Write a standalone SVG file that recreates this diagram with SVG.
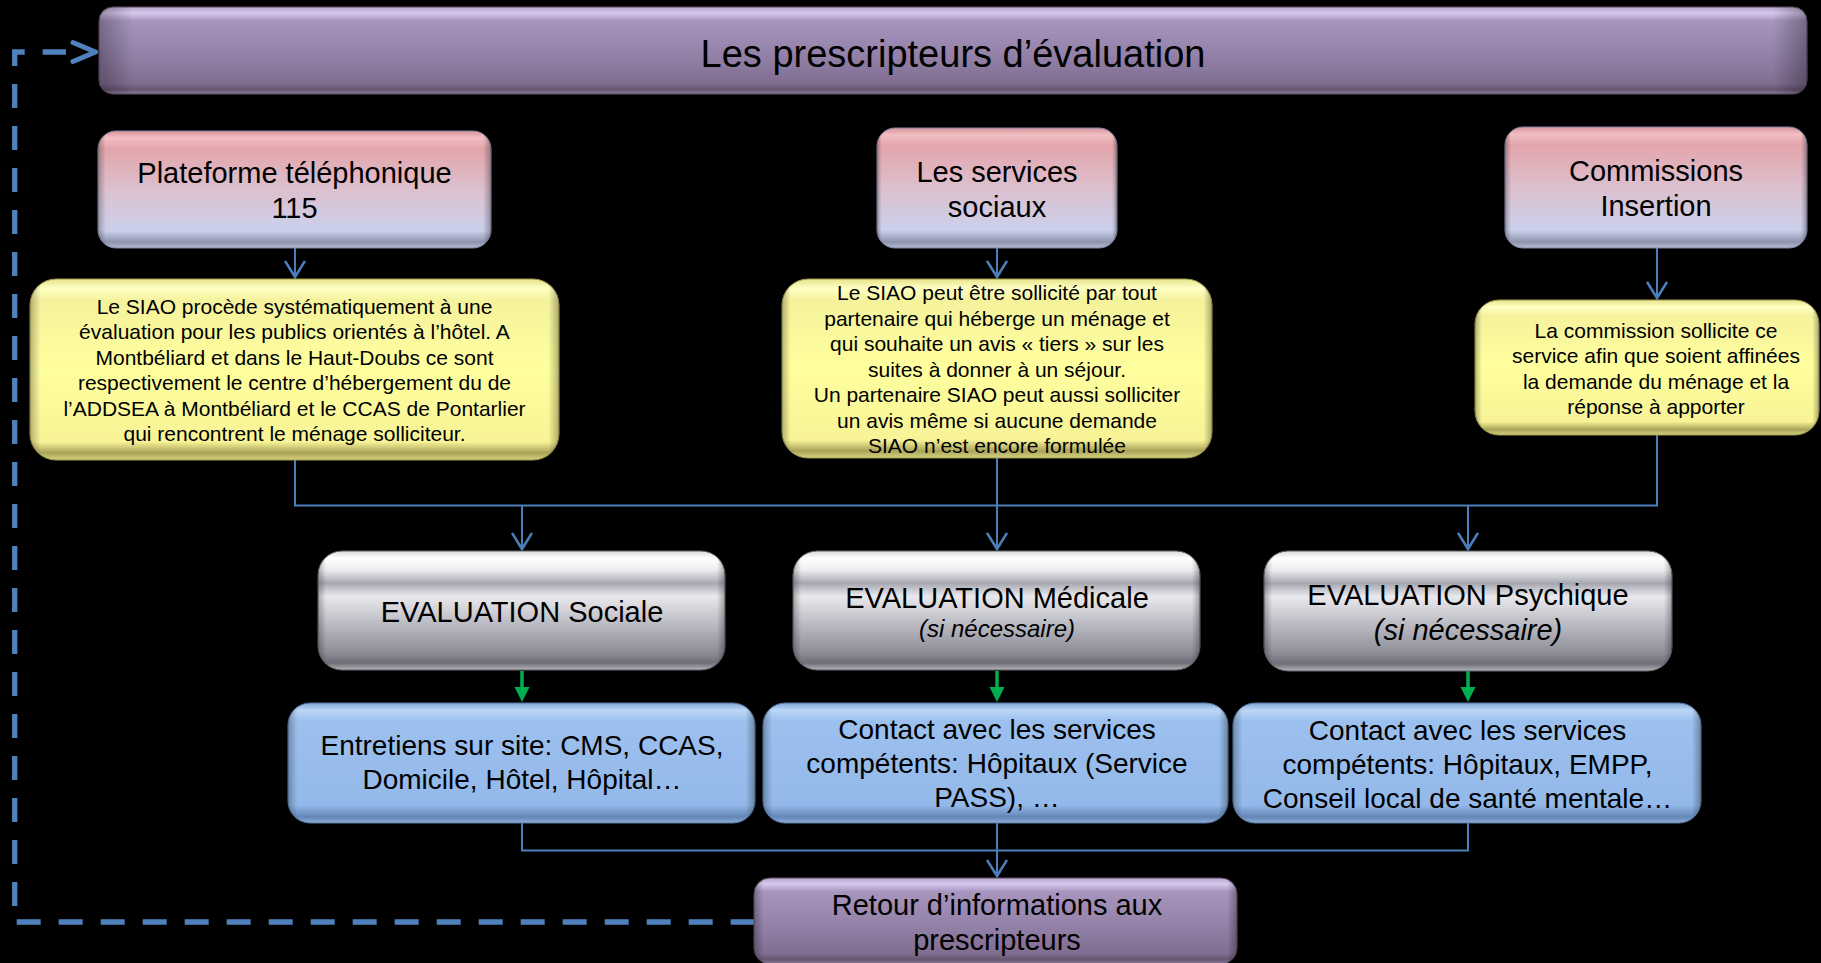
<svg xmlns="http://www.w3.org/2000/svg" width="1821" height="963" viewBox="0 0 1821 963">
<defs>
  <linearGradient id="gPurple" x1="0" y1="0" x2="0" y2="1">
    <stop offset="0" stop-color="#B8A6CC"/>
    <stop offset="0.07" stop-color="#D6C7EC"/>
    <stop offset="0.16" stop-color="#A795BE"/>
    <stop offset="0.55" stop-color="#9381A8"/>
    <stop offset="0.88" stop-color="#806D90"/>
    <stop offset="0.95" stop-color="#66566F"/>
    <stop offset="1" stop-color="#8E7E9E"/>
  </linearGradient>
  <linearGradient id="gPink" x1="0" y1="0" x2="0" y2="1">
    <stop offset="0" stop-color="#D9959C"/>
    <stop offset="0.06" stop-color="#F2BFC4"/>
    <stop offset="0.15" stop-color="#E3A5AB"/>
    <stop offset="0.5" stop-color="#DCC0CE"/>
    <stop offset="0.85" stop-color="#CBD0EC"/>
    <stop offset="0.95" stop-color="#8F94AE"/>
    <stop offset="1" stop-color="#B6BAD2"/>
  </linearGradient>
  <linearGradient id="gYellow" x1="0" y1="0" x2="0" y2="1">
    <stop offset="0" stop-color="#E6E28A"/>
    <stop offset="0.05" stop-color="#FFFFC4"/>
    <stop offset="0.12" stop-color="#F5F29C"/>
    <stop offset="0.5" stop-color="#FFFF9E"/>
    <stop offset="0.9" stop-color="#F7F396"/>
    <stop offset="0.96" stop-color="#A9A35A"/>
    <stop offset="1" stop-color="#D7D27E"/>
  </linearGradient>
  <linearGradient id="gGray" x1="0" y1="0" x2="0" y2="1">
    <stop offset="0" stop-color="#D8D8DC"/>
    <stop offset="0.06" stop-color="#FFFFFF"/>
    <stop offset="0.16" stop-color="#EDEDF0"/>
    <stop offset="0.27" stop-color="#A7A7B1"/>
    <stop offset="0.38" stop-color="#E9E9ED"/>
    <stop offset="0.6" stop-color="#BDBDC5"/>
    <stop offset="0.85" stop-color="#8E8E99"/>
    <stop offset="0.94" stop-color="#6E6E78"/>
    <stop offset="1" stop-color="#B4B4BC"/>
  </linearGradient>
  <linearGradient id="gBlue" x1="0" y1="0" x2="0" y2="1">
    <stop offset="0" stop-color="#7FA6D6"/>
    <stop offset="0.06" stop-color="#BCD6F6"/>
    <stop offset="0.15" stop-color="#9CC0EE"/>
    <stop offset="0.85" stop-color="#93B9EA"/>
    <stop offset="0.95" stop-color="#6486B6"/>
    <stop offset="1" stop-color="#8FAFDA"/>
  </linearGradient>
  <linearGradient id="gEdge" x1="0" y1="0" x2="1" y2="0">
    <stop offset="0" stop-color="#000" stop-opacity="0.28"/>
    <stop offset="0.02" stop-color="#000" stop-opacity="0"/>
    <stop offset="0.98" stop-color="#000" stop-opacity="0"/>
    <stop offset="1" stop-color="#000" stop-opacity="0.3"/>
  </linearGradient>
  <marker id="arrOpen" viewBox="0 0 20 22" refX="17" refY="11" markerWidth="20" markerHeight="22" markerUnits="userSpaceOnUse" orient="auto">
    <path d="M1,1 L17,11 L1,21" fill="none" stroke="#4A7EBB" stroke-width="2.6"/>
  </marker>
</defs>
<style>
  text { font-family: "Liberation Sans", Arial, sans-serif; fill: #000; text-anchor: middle; }
  .t38 { font-size: 38px; }
  .t29 { font-size: 29px; }
  .t28 { font-size: 28px; }
  .t21 { font-size: 21px; }
  .i24 { font-size: 24px; font-style: italic; }
  .i29 { font-size: 29px; font-style: italic; }
  .purple { fill: url(#gPurple); stroke: #5E4F6C; stroke-width: 1; }
  .pink { fill: url(#gPink); stroke: #7F86A2; stroke-width: 1; }
  .yellow { fill: url(#gYellow); stroke: #9E9850; stroke-width: 1; }
  .gray { fill: url(#gGray); stroke: #60606A; stroke-width: 1; }
  .blue { fill: url(#gBlue); stroke: #56789F; stroke-width: 1; }
  .edge { fill: url(#gEdge); stroke: none; }
  .conn { fill: none; stroke: #4A7EBB; stroke-width: 2; }
  .green { fill: none; stroke: #00B050; stroke-width: 3.5; }
  .greenHead { fill: #00B050; }
  .dash { fill: none; stroke: #4F81BD; stroke-width: 5.3; stroke-dasharray: 24 18; }
  .dashHead { fill: none; stroke: #4F81BD; stroke-width: 5; stroke-linecap: round; stroke-linejoin: round; }
</style>
<rect width="1821" height="963" fill="#000"/>

<g id="connectors">
  <path class="conn" d="M295,460 V505.5 H1657 V435"/>
  <path class="conn" d="M295,248 V277" marker-end="url(#arrOpen)"/>
  <path class="conn" d="M997,248 V277" marker-end="url(#arrOpen)"/>
  <path class="conn" d="M1657,248 V298" marker-end="url(#arrOpen)"/>
  <path class="conn" d="M522,505.5 V549" marker-end="url(#arrOpen)"/>
  <path class="conn" d="M997,458 V549" marker-end="url(#arrOpen)"/>
  <path class="conn" d="M1468,505.5 V549" marker-end="url(#arrOpen)"/>
  <line class="green" x1="522" y1="671" x2="522" y2="689"/>
  <polygon class="greenHead" points="514.5,687 529.5,687 522,702"/>
  <line class="green" x1="997" y1="671" x2="997" y2="689"/>
  <polygon class="greenHead" points="989.5,687 1004.5,687 997,702"/>
  <line class="green" x1="1468" y1="671" x2="1468" y2="689"/>
  <polygon class="greenHead" points="1460.5,687 1475.5,687 1468,702"/>
  <path class="conn" d="M522,823 V850.5 H1468 V823"/>
  <path class="conn" d="M997,823 V876" marker-end="url(#arrOpen)"/>
  <path class="dash" d="M16.7,922 H754"/>
  <path class="dash" d="M14.7,906 V52 H66"/>
  <polyline class="dashHead" points="73,42.5 95.5,52 73,61.5"/>
</g>

<g id="n-prescripteurs">
  <rect class="purple" x="99" y="7" width="1708" height="87" rx="14"/>
  <rect class="edge" x="99" y="7" width="1708" height="87" rx="14"/>
  <text class="t38" x="953" y="67">Les prescripteurs d’évaluation</text>
</g>

<g id="n-plateforme">
  <rect class="pink" x="98" y="131" width="393" height="117" rx="18"/>
  <rect class="edge" x="98" y="131" width="393" height="117" rx="18"/>
  <text class="t29" x="294.5" y="183">Plateforme téléphonique</text>
  <text class="t29" x="294.5" y="218">115</text>
</g>

<g id="n-services">
  <rect class="pink" x="877" y="128" width="240" height="120" rx="18"/>
  <rect class="edge" x="877" y="128" width="240" height="120" rx="18"/>
  <text class="t29" x="997" y="182">Les services</text>
  <text class="t29" x="997" y="217">sociaux</text>
</g>

<g id="n-commissions">
  <rect class="pink" x="1505" y="127" width="302" height="121" rx="18"/>
  <rect class="edge" x="1505" y="127" width="302" height="121" rx="18"/>
  <text class="t29" x="1656" y="181">Commissions</text>
  <text class="t29" x="1656" y="216">Insertion</text>
</g>

<g id="n-siao-115">
  <rect class="yellow" x="30" y="279" width="529" height="181" rx="26"/>
  <rect class="edge" x="30" y="279" width="529" height="181" rx="26"/>
  <text class="t21" x="294.5" y="313.5">Le SIAO procède systématiquement à une</text>
  <text class="t21" x="294.5" y="339">évaluation pour les publics orientés à l’hôtel. A</text>
  <text class="t21" x="294.5" y="364.5">Montbéliard et dans le Haut-Doubs ce sont</text>
  <text class="t21" x="294.5" y="390">respectivement le centre d’hébergement du de</text>
  <text class="t21" x="294.5" y="415.5">l’ADDSEA à Montbéliard et le CCAS de Pontarlier</text>
  <text class="t21" x="294.5" y="441">qui rencontrent le ménage solliciteur.</text>
</g>

<g id="n-siao-services">
  <rect class="yellow" x="782" y="279" width="430" height="179" rx="26"/>
  <rect class="edge" x="782" y="279" width="430" height="179" rx="26"/>
  <text class="t21" x="997" y="300">Le SIAO peut être sollicité par tout</text>
  <text class="t21" x="997" y="325.5">partenaire qui héberge un ménage et</text>
  <text class="t21" x="997" y="351">qui souhaite un avis « tiers » sur les</text>
  <text class="t21" x="997" y="376.5">suites à donner à un séjour.</text>
  <text class="t21" x="997" y="402">Un partenaire SIAO peut aussi solliciter</text>
  <text class="t21" x="997" y="427.5">un avis même si aucune demande</text>
  <text class="t21" x="997" y="453">SIAO n’est encore formulée</text>
</g>

<g id="n-commission-text">
  <rect class="yellow" x="1475" y="300" width="344" height="135" rx="24"/>
  <rect class="edge" x="1475" y="300" width="344" height="135" rx="24"/>
  <text class="t21" x="1656" y="337.5">La commission sollicite ce</text>
  <text class="t21" x="1656" y="363">service afin que soient affinées</text>
  <text class="t21" x="1656" y="388.5">la demande du ménage et la</text>
  <text class="t21" x="1656" y="414">réponse à apporter</text>
</g>

<g id="n-eval-sociale">
  <rect class="gray" x="318" y="551" width="407" height="119" rx="24"/>
  <rect class="edge" x="318" y="551" width="407" height="119" rx="24"/>
  <text class="t29" x="522" y="621.5">EVALUATION Sociale</text>
</g>

<g id="n-eval-medicale">
  <rect class="gray" x="793" y="551" width="407" height="119" rx="24"/>
  <rect class="edge" x="793" y="551" width="407" height="119" rx="24"/>
  <text class="t29" x="997" y="607.5">EVALUATION Médicale</text>
  <text class="i24" x="997" y="636.5">(si nécessaire)</text>
</g>

<g id="n-eval-psychique">
  <rect class="gray" x="1264" y="551" width="408" height="120" rx="24"/>
  <rect class="edge" x="1264" y="551" width="408" height="120" rx="24"/>
  <text class="t29" x="1468" y="605">EVALUATION Psychique</text>
  <text class="i29" x="1468" y="639.5">(si nécessaire)</text>
</g>

<g id="n-entretiens">
  <rect class="blue" x="288" y="703" width="467" height="120" rx="22"/>
  <rect class="edge" x="288" y="703" width="467" height="120" rx="22"/>
  <text class="t28" x="522" y="755">Entretiens sur site: CMS, CCAS,</text>
  <text class="t28" x="522" y="789">Domicile, Hôtel, Hôpital…</text>
</g>

<g id="n-contact-medical">
  <rect class="blue" x="763" y="703" width="465" height="120" rx="22"/>
  <rect class="edge" x="763" y="703" width="465" height="120" rx="22"/>
  <text class="t28" x="997" y="738.5">Contact avec les services</text>
  <text class="t28" x="997" y="772.5">compétents: Hôpitaux (Service</text>
  <text class="t28" x="997" y="806.5">PASS), …</text>
</g>

<g id="n-contact-psy">
  <rect class="blue" x="1233" y="703" width="468" height="120" rx="22"/>
  <rect class="edge" x="1233" y="703" width="468" height="120" rx="22"/>
  <text class="t28" x="1467.5" y="739.5">Contact avec les services</text>
  <text class="t28" x="1467.5" y="773.5">compétents: Hôpitaux, EMPP,</text>
  <text class="t28" x="1467.5" y="807.5">Conseil local de santé mentale…</text>
</g>

<g id="n-retour">
  <rect class="purple" x="754" y="878" width="483" height="86" rx="16"/>
  <rect class="edge" x="754" y="878" width="483" height="86" rx="16"/>
  <text class="t29" x="997" y="915">Retour d’informations aux</text>
  <text class="t29" x="997" y="949.5">prescripteurs</text>
</g>
</svg>
